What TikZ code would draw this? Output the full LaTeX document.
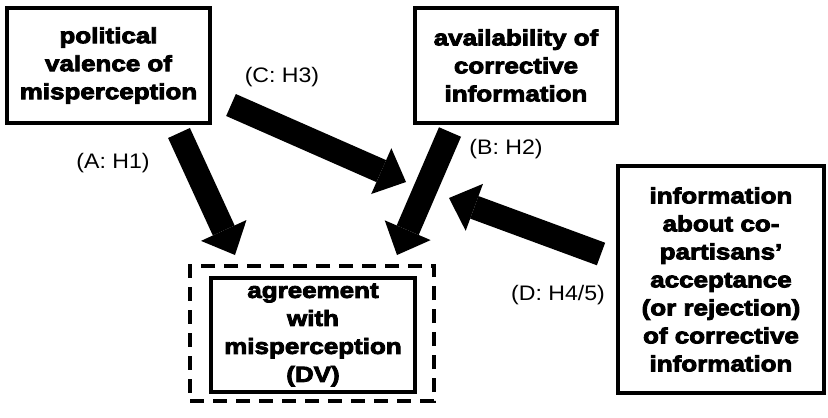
\documentclass[tikz,border=0pt]{standalone}
\usepackage{fontspec}
\setmainfont{Liberation Sans}
\newfontfamily\boxfont[FakeBold=4,FakeStretch=1.18]{Liberation Sans Bold}
\newfontfamily\lblfont[FakeStretch=1.1]{Liberation Sans}
\usetikzlibrary{arrows.meta}
\tikzset{
  box/.style={draw, line width=4pt, rectangle, align=center, inner sep=0pt,
    font=\boxfont\fontsize{22}{28}\selectfont},
  dvbound/.style={draw, line width=4pt, dash pattern=on 14pt off 9pt, rectangle, inner sep=0pt},
  lbl/.style={font=\lblfont\fontsize{21}{24}\selectfont, inner sep=0pt},
  bigarrow/.style={line width=24pt, -{Triangle[width=50pt,length=27pt,line width=0pt]}}
}
\begin{document}
\begin{tikzpicture}[x=1pt,y=-1pt]
\useasboundingbox (0,0) rectangle (828,418);
\node[box, minimum width=203pt, minimum height=115pt] (pol) at (108.5,65.5)
  {political\\valence of\\misperception};
\node[box, minimum width=202pt, minimum height=115pt] (avail) at (516,65.5)
  {availability of\\corrective\\information};
\node[box, minimum width=206pt, minimum height=227pt] (info) at (721,279.5)
  {information\\about co-\\partisans’\\acceptance\\(or rejection)\\of corrective\\information};
\node[box, minimum width=204pt, minimum height=114pt] (dv) at (313,335)
  {agreement\\with\\misperception\\(DV)};
\node[dvbound, minimum width=244pt, minimum height=135pt] (dvb) at (312,333.5) {};

\coordinate (aS) at (179,133);
\coordinate (aE) at (235,255);
\coordinate (bS) at (450,132);
\coordinate (bE) at (397,255);
\coordinate (cS) at (231,105);
\coordinate (cE) at (406,182);
\coordinate (dS) at (601,254);
\coordinate (dE) at (449,198);

\draw[bigarrow] (aS) -- (aE);
\draw[bigarrow] (bS) -- (bE);
\draw[bigarrow] (cS) -- (cE);
\draw[bigarrow] (dS) -- (dE);

\node[lbl] (la) at (113,163) {(A: H1)};
\node[lbl] (lb) at (506,149) {(B: H2)};
\node[lbl] (lc) at (282,77) {(C: H3)};
\node[lbl] (ld) at (558,295) {(D: H4/5)};
\end{tikzpicture}
\end{document}
